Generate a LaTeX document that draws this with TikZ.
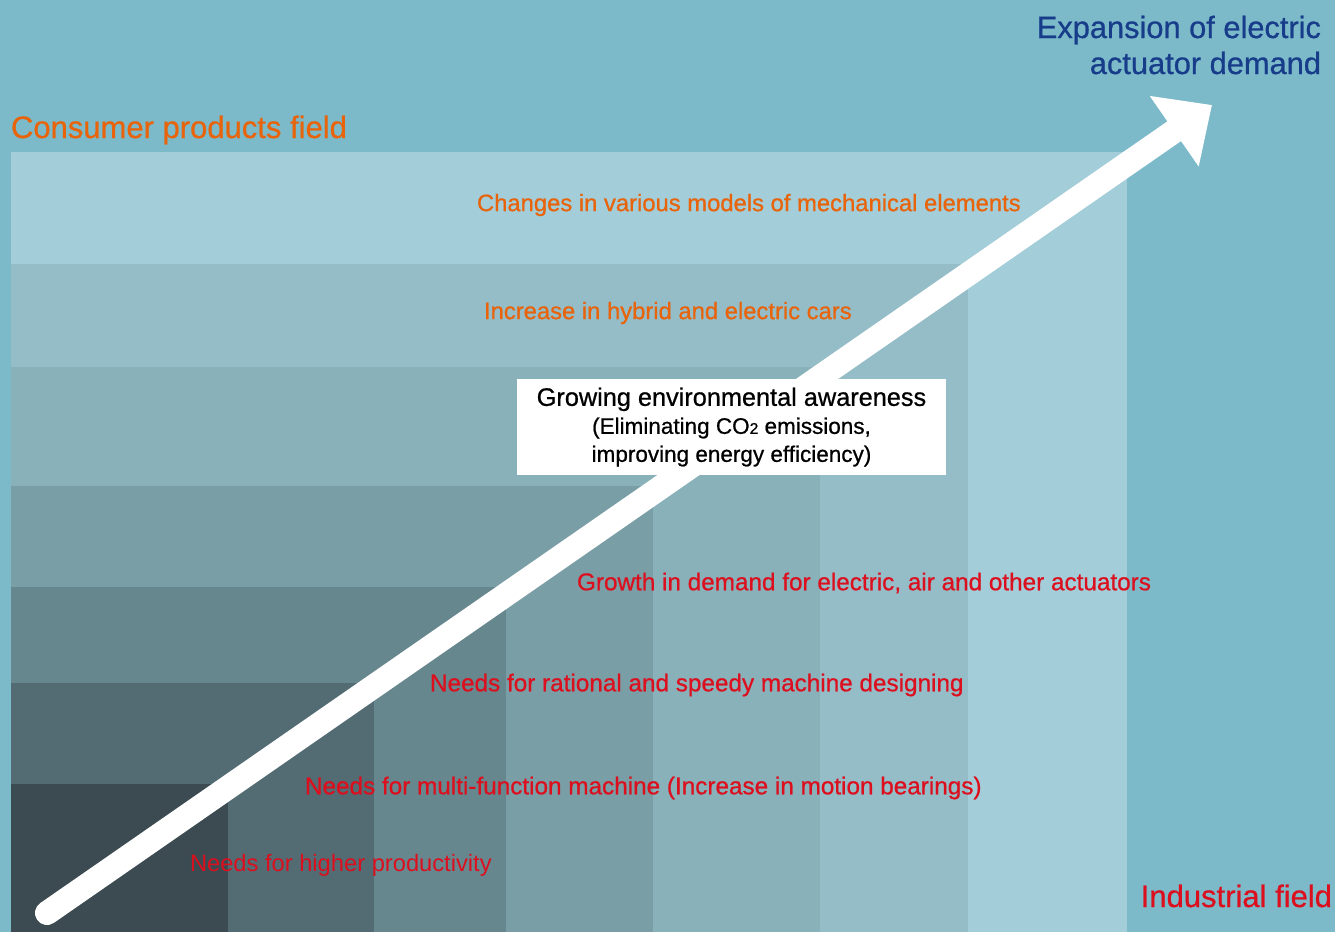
\documentclass[tikz,border=0pt]{standalone}
\usepackage{fontspec}
\setmainfont{Liberation Sans}
\newfontfamily\mediumfont[FakeBold=0.7]{Liberation Sans}
\usepackage{tikz}
\usetikzlibrary{arrows.meta,positioning}
\definecolor{backteal}{HTML}{7CBACA}
\definecolor{shadeA}{HTML}{A3CDD8}
\definecolor{shadeB}{HTML}{95BDC8}
\definecolor{shadeC}{HTML}{89B1BA}
\definecolor{shadeD}{HTML}{7A9EA6}
\definecolor{shadeE}{HTML}{67878E}
\definecolor{shadeF}{HTML}{536B72}
\definecolor{shadeG}{HTML}{3B4B51}
\definecolor{consumer}{HTML}{E8630A}
\definecolor{industry}{HTML}{DC0F1E}
\definecolor{demand}{HTML}{163C8A}
\tikzset{
    every node/.append style={inner sep=0pt, outer sep=0pt},
    fieldlabel/.style={font=\mediumfont\fontsize{31}{36}\selectfont},
    consumerneed/.style={text=consumer, font=\mediumfont\fontsize{23.8}{28}\selectfont},
    industryneed/.style={text=industry, font=\mediumfont\fontsize{24.3}{28}\selectfont},
    bigarrow/.style={white, line width=24pt, line cap=round,
        -{Triangle[length=46pt,width=83pt]}}}

\begin{document}
\begin{tikzpicture}[x=1pt,y=-1pt]
    \useasboundingbox (0,0) rectangle (1335,932);
    \fill[backteal] (0,0) rectangle (1335,932);
    % shaded fields, largest first
    \fill[shadeA] (11,152) rectangle (1127,932);
    \fill[shadeB] (11,264) rectangle (968,932);
    \fill[shadeC] (11,367) rectangle (820,932);
    \fill[shadeD] (11,486) rectangle (653,932);
    \fill[shadeE] (11,587) rectangle (506,932);
    \fill[shadeF] (11,683) rectangle (374,932);
    \fill[shadeG] (11,784) rectangle (228,932);

    \coordinate (start) at (47,913);
    \coordinate (tip) at (1212,105);
    \draw[bigarrow] (start) -- (tip);

    \node[fieldlabel, text=consumer, anchor=base west] (consumerfield) at (11,138) {Consumer products field};
    \node[fieldlabel, text=industry, anchor=base east] (industrialfield) at (1332,907) {Industrial field};
    \node[fieldlabel, text=demand, anchor=base east, align=right,
        font=\mediumfont\fontsize{30.8}{36}\selectfont] (expansion) at (1321,74)
        {Expansion of electric\\actuator demand};

    \node[consumerneed, anchor=west] (changes) at (477,205) {Changes in various models of mechanical elements};
    \node[consumerneed, anchor=west] (hybrid) at (484,313) {Increase in hybrid and electric cars};

    \node[fill=white, minimum width=429pt, minimum height=96pt, align=center,
        font=\mediumfont\fontsize{22.5}{28}\selectfont] (awareness) at (731.5,427)
        {{\fontsize{25.3}{28}\selectfont Growing environmental awareness}\\
         (Eliminating CO{\fontsize{15.5}{15}\selectfont 2} emissions,\\
         improving energy efficiency)};

    \node[industryneed, anchor=west] (growth) at (577,583) {Growth in demand for electric, air and other actuators};
    \node[industryneed, anchor=west] (rational) at (430,685) {Needs for rational and speedy machine designing};
    \node[industryneed, anchor=west] (multi) at (305,788) {Needs for multi-function machine (Increase in motion bearings)};
    \node[industryneed, anchor=west, font=\fontsize{23.7}{28}\selectfont] (productivity) at (190,865) {Needs for higher productivity};
\end{tikzpicture}
\end{document}
